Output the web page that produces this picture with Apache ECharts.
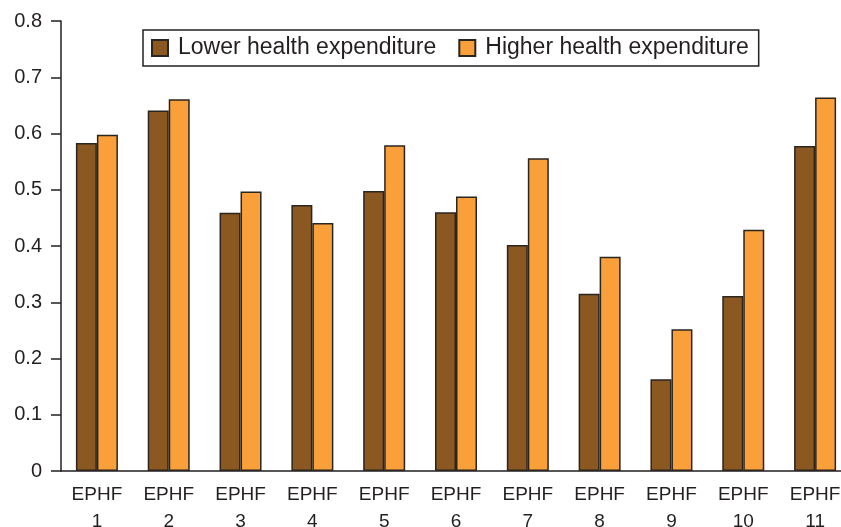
<!DOCTYPE html>
<html>
<head>
<meta charset="utf-8">
<script src="https://cdn.jsdelivr.net/npm/echarts@6/dist/echarts.min.js"></script>
<style>
  html, body { margin: 0; padding: 0; background: #fff; }
  #chart { width: 841px; height: 527px; }
</style>
</head>
<body>
<div id="chart"></div>
<script>
// Essential public health functions, by health expenditure group
const categories = ['EPHF\n1', 'EPHF\n2', 'EPHF\n3', 'EPHF\n4', 'EPHF\n5', 'EPHF\n6',
                    'EPHF\n7', 'EPHF\n8', 'EPHF\n9', 'EPHF\n10', 'EPHF\n11'];
const lowerSpending  = [0.583, 0.641, 0.459, 0.473, 0.498, 0.460, 0.402, 0.315, 0.163, 0.311, 0.578];
const higherSpending = [0.598, 0.661, 0.497, 0.441, 0.579, 0.488, 0.556, 0.381, 0.252, 0.429, 0.664];
const seriesNames = ['Lower health expenditure', 'Higher health expenditure'];

const FONT = 'Liberation Sans';
const INK = '#231f20';
const EDGE = '#2b2520';

const chart = echarts.init(document.getElementById('chart'), null, { renderer: 'canvas' });
chart.setOption({
  animation: false,
  textStyle: { fontFamily: FONT },
  legend: {
    left: 143, top: 30,
    orient: 'horizontal',
    icon: 'rect',
    itemWidth: 16, itemHeight: 16, itemGap: 22,
    padding: [6, 10, 6, 8],
    borderColor: INK, borderWidth: 1.5, borderRadius: 0,
    textStyle: { fontFamily: FONT, fontSize: 23, lineHeight: 24, color: INK, padding: [0, 0, 0, 5] },
    data: seriesNames
  },
  grid: { left: 61, top: 21, width: 790, height: 450, containLabel: false, outerBoundsMode: 'none' },
  xAxis: {
    type: 'category',
    data: categories,
    axisLine: { lineStyle: { color: INK, width: 1.5 } },
    axisTick: { length: 9, lineStyle: { color: INK, width: 1.5 } },
    axisLabel: { color: INK, fontSize: 19, lineHeight: 27, margin: 10, fontFamily: FONT, interval: 0 }
  },
  yAxis: {
    type: 'value',
    min: 0, max: 0.8, interval: 0.1,
    splitLine: { show: false },
    axisLine: { show: true, lineStyle: { color: INK, width: 1.5 } },
    axisTick: { show: true, length: 10, lineStyle: { color: INK, width: 1.5 } },
    axisLabel: {
      color: INK, fontSize: 20, margin: 19, fontFamily: FONT,
      formatter: v => (v === 0 ? '0' : v.toFixed(1))
    }
  },
  series: [
    {
      name: seriesNames[0], type: 'bar', data: lowerSpending,
      barWidth: 21, barGap: '0%',
      itemStyle: { color: '#8a5820', borderColor: EDGE, borderWidth: 1.5 }
    },
    {
      name: seriesNames[1], type: 'bar', data: higherSpending,
      barWidth: 21, barGap: '0%',
      itemStyle: { color: '#f9a03b', borderColor: EDGE, borderWidth: 1.5 }
    }
  ]
});
</script>
</body>
</html>
